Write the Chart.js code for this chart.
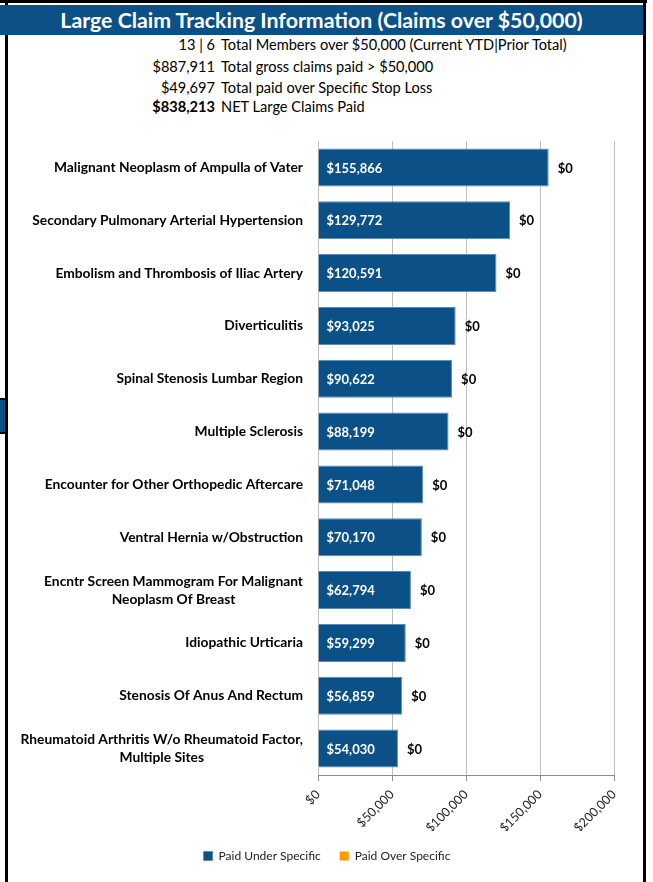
<!DOCTYPE html>
<html>
<head>
<meta charset="utf-8">
<script src="https://cdn.jsdelivr.net/npm/chart.js@4/dist/chart.umd.min.js"></script>
<style>
body { margin: 0; background: #fff; font-family: Lato, sans-serif; }
#page { position: relative; width: 653px; height: 882px; overflow: hidden; background: #fff; }
.bline { position: absolute; background: #000; }
#header { position: absolute; left: 0; top: 5px; width: 643px; height: 30px; background: #0b5087;
  color: #fff; font-weight: bold; font-size: 21.3px; line-height: 30px; text-align: center; }
.info { position: absolute; left: 0; width: 640px; height: 20px; font-size: 14.6px; line-height: 20px; color: #000; }
.info .num { position: absolute; right: 425px; text-align: right; white-space: nowrap; }
.info .txt { position: absolute; left: 221px; white-space: nowrap; }
#covid { position: absolute; left: 0; top: 120px; }
</style>
</head>
<body>
<div id="page">
  <div class="bline" style="left:0;top:0;width:647px;height:3px"></div>
  <div class="bline" style="left:5px;top:0;width:3px;height:882px"></div>
  <div class="bline" style="left:643px;top:0;width:3px;height:882px"></div>
  <div id="header">Large Claim Tracking Information (Claims over $50,000)</div>
  <div class="bline" style="left:0;top:398px;width:8px;height:36px"></div>
  <div style="position:absolute;left:0;top:400px;width:5px;height:32px;background:#0b5087"></div>

  <div class="info" style="top:35px"><span class="num">13 | 6</span><span class="txt">Total Members over $50,000 (Current YTD|Prior Total)</span></div>
  <div class="info" style="top:57px"><span class="num">$887,911</span><span class="txt">Total gross claims paid &gt; $50,000</span></div>
  <div class="info" style="top:78px"><span class="num">$49,697</span><span class="txt">Total paid over Specific Stop Loss</span></div>
  <div class="info" style="top:97px"><span class="num" style="font-weight:bold">$838,213</span><span class="txt">NET Large Claims Paid</span></div>

  <canvas id="covid" width="643" height="762"></canvas>
</div>
<script>
var categories = [
  'Malignant Neoplasm of Ampulla of Vater',
  'Secondary Pulmonary Arterial Hypertension',
  'Embolism and Thrombosis of Iliac Artery',
  'Diverticulitis',
  'Spinal Stenosis Lumbar Region',
  'Multiple Sclerosis',
  'Encounter for Other Orthopedic Aftercare',
  'Ventral Hernia w/Obstruction',
  ['Encntr Screen Mammogram For Malignant', 'Neoplasm Of Breast'],
  'Idiopathic Urticaria',
  'Stenosis Of Anus And Rectum',
  ['Rheumatoid Arthritis W/o Rheumatoid Factor,', 'Multiple Sites']
];
var paidUnder = [155866, 129772, 120591, 93025, 90622, 88199, 71048, 70170, 62794, 59299, 56859, 54030];
var paidOver = [0, 0, 0, 0, 0, 0, 0, 0, 0, 0, 0, 0];
var xTicks = [0, 50000, 100000, 150000, 200000];

function money(v) {
  return '$' + Number(v).toLocaleString('en-US');
}

// escreve os valores nas barras e os nomes das categorias
var barText = {
  id: 'barText',
  afterDatasetsDraw: function (chart) {
    var ctx = chart.ctx;
    var under = chart.getDatasetMeta(0).data;
    var over = chart.getDatasetMeta(1).data;
    ctx.save();
    ctx.font = 'bold 13px Lato';
    ctx.textBaseline = 'middle';
    ctx.textAlign = 'left';
    for (var i = 0; i < under.length; i++) {
      ctx.fillStyle = '#fff';
      ctx.fillText(money(paidUnder[i]), under[i].base + 8, under[i].y + 1);
      ctx.fillStyle = '#000';
      ctx.fillText(money(paidOver[i]), over[i].x + 9, under[i].y + 1);
    }
    // nomes a esquerda
    var y = chart.scales.y;
    var right = y.right - 15;
    ctx.font = 'bold 13.8px Lato';
    ctx.textAlign = 'center';
    for (var j = 0; j < categories.length; j++) {
      var lines = [].concat(categories[j]);
      var w = 0;
      lines.forEach(function (l) { w = Math.max(w, ctx.measureText(l).width); });
      var cy = y.getPixelForValue(j);
      var lh = 18;
      var top = cy - (lines.length - 1) * lh / 2;
      ctx.fillStyle = '#000';
      lines.forEach(function (l, k) {
        ctx.fillText(l, right - w / 2, top + k * lh);
      });
    }
    ctx.restore();
  }
};

new Chart(document.getElementById('covid'), {
  type: 'bar',
  data: {
    labels: categories,
    datasets: [{
      label: 'Paid Under Specific',
      data: paidUnder,
      backgroundColor: '#0b5087',
      borderColor: '#5b8bb8',
      borderWidth: 1,
      barPercentage: 0.72,
      categoryPercentage: 1
    }, {
      label: 'Paid Over Specific',
      data: paidOver,
      backgroundColor: '#ff9900',
      barPercentage: 0.72,
      categoryPercentage: 1
    }]
  },
  options: {
    indexAxis: 'y',
    responsive: false,
    animation: false,
    devicePixelRatio: 1,
    layout: { padding: { left: 40, right: 29, top: 21, bottom: 10 } },
    scales: {
      x: {
        stacked: true,
        min: 0,
        max: 200000,
        afterBuildTicks: function (scale) {
          scale.ticks = xTicks.map(function (v) { return { value: v }; });
        },
        afterFit: function (scale) { scale.height = 56; },
        ticks: {
          minRotation: 45,
          maxRotation: 45,
          padding: 6,
          color: '#222',
          font: { family: 'Lato', size: 12.5 },
          callback: function (v) { return money(v); }
        },
        grid: { color: '#bfbfbf', tickColor: '#8c8c8c', tickLength: 6 },
        border: { color: '#8c8c8c' }
      },
      y: {
        stacked: true,
        afterFit: function (scale) { scale.width = 278; },
        ticks: { display: false },
        grid: { display: false },
        border: { display: false }
      }
    },
    plugins: {
      legend: {
        position: 'bottom',
        labels: {
          boxWidth: 9,
          boxHeight: 9,
          padding: 19,
          color: '#222',
          font: { family: 'Lato', size: 12 }
        }
      },
      tooltip: { enabled: false }
    }
  },
  plugins: [barText]
});
</script>
</body>
</html>
